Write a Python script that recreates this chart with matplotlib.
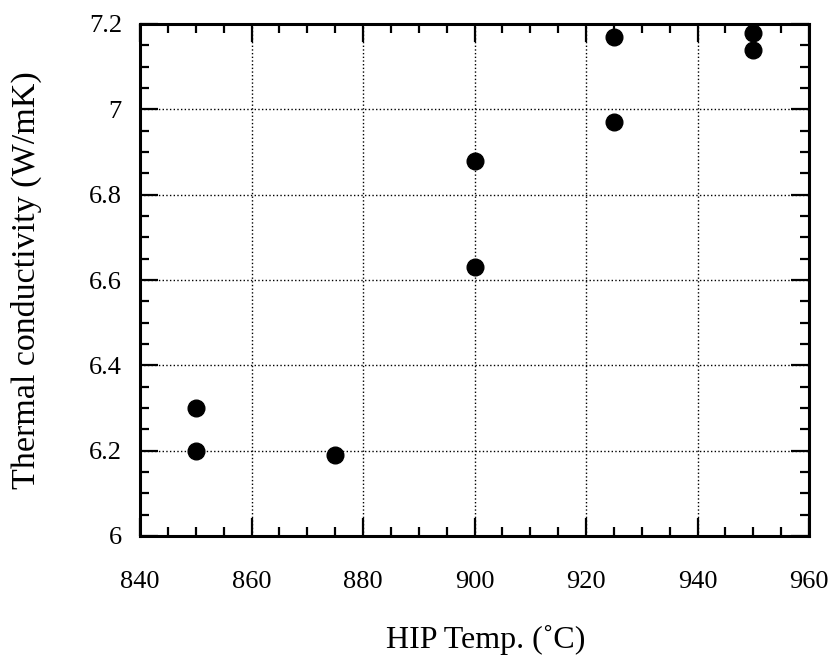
import matplotlib.pyplot as plt
from matplotlib.ticker import MultipleLocator

# data
hip_temp = [850, 850, 875, 900, 900, 925, 925, 950, 950]
conductivity = [6.30, 6.20, 6.19, 6.88, 6.63, 7.17, 6.97, 7.18, 7.14]

y_ticks = [6, 6.2, 6.4, 6.6, 6.8, 7, 7.2]
y_tick_labels = ['6', '6.2', '6.4', '6.6', '6.8', '7', '7.2']

plt.rcParams['font.family'] = ['Liberation Serif', 'DejaVu Serif']

fig = plt.figure(figsize=(8.3, 6.59), dpi=100)
ax = fig.add_axes([140 / 830, 1 - 536 / 659, 669 / 830, 512 / 659])

ax.plot(hip_temp, conductivity, 'o', color='k', markersize=12, zorder=4, clip_on=False)

ax.set_xlim(840, 960)
ax.set_ylim(6, 7.2)
ax.xaxis.set_major_locator(MultipleLocator(20))
ax.xaxis.set_minor_locator(MultipleLocator(5))
ax.yaxis.set_minor_locator(MultipleLocator(0.05))
ax.set_yticks(y_ticks)
ax.set_yticklabels(y_tick_labels)

ax.tick_params(which='both', direction='in', top=True, right=True, width=1.6,
               labelsize=19, color='k')
ax.tick_params(which='major', length=13)
ax.tick_params(which='minor', length=6.5)
ax.tick_params(axis='x', which='major', pad=25)
ax.tick_params(axis='y', which='major', pad=13)
for s in ax.spines.values():
    s.set_linewidth(2.2)

ax.grid(True, which='major', linestyle=':', color='k', linewidth=1)

ax.set_xlabel('HIP Temp. (˚C)', fontsize=23)
ax.set_ylabel('Thermal conductivity (W/mK)', fontsize=24.5)
ax.xaxis.set_label_coords(0.516, -0.174)
ax.yaxis.set_label_coords(-0.146, 0.5)

fig.savefig('out.png', dpi=100)
